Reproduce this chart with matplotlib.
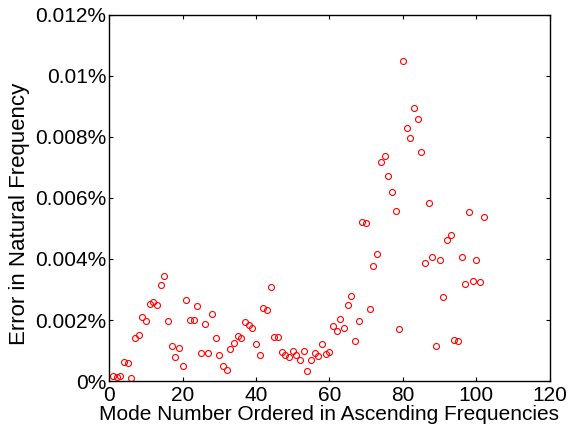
import matplotlib
matplotlib.use('Agg')
import matplotlib.pyplot as plt
from matplotlib.ticker import FuncFormatter

# relative error (in percent) for each mode number
modes = list(range(1, 103))
err = [0.00016, 0.00012, 0.00015, 0.00062, 0.00060, 0.00010, 0.00142, 0.00150, 0.00209, 0.00197,
       0.00251, 0.00259, 0.00248, 0.00314, 0.00344, 0.00197, 0.00114, 0.00080, 0.00108, 0.00048,
       0.00264, 0.00201, 0.00200, 0.00247, 0.00091, 0.00187, 0.00093, 0.00220, 0.00141, 0.00085,
       0.00048, 0.00037, 0.00106, 0.00125, 0.00146, 0.00142, 0.00192, 0.00184, 0.00173, 0.00120,
       0.00086, 0.00239, 0.00233, 0.00307, 0.00144, 0.00144, 0.00095, 0.00086, 0.00080, 0.00097,
       0.00084, 0.00068, 0.00098, 0.00033, 0.00068, 0.00093, 0.00083, 0.00120, 0.00089, 0.00096,
       0.00180, 0.00163, 0.00202, 0.00175, 0.00248, 0.00280, 0.00131, 0.00196, 0.00522, 0.00517,
       0.00236, 0.00376, 0.00416, 0.00716, 0.00738, 0.00672, 0.00620, 0.00558, 0.00169, 0.01049,
       0.00828, 0.00796, 0.00895, 0.00858, 0.00749, 0.00387, 0.00584, 0.00407, 0.00114, 0.00397,
       0.00275, 0.00462, 0.00480, 0.00136, 0.00131, 0.00407, 0.00318, 0.00553, 0.00328, 0.00398,
       0.00325, 0.00536]

plt.rcParams['font.family'] = ['Liberation Sans', 'DejaVu Sans']

fig = plt.figure(figsize=(5.69, 4.34), dpi=100)
ax = fig.add_axes([0.192, 0.122, 0.774, 0.844])

ax.plot(modes, err, 'o', mfc='none', mec='red', ms=4.3, mew=0.8)

ax.set_xlim(0, 120)
ax.set_ylim(0, 0.012)
ax.set_xticks(range(0, 121, 20))
ax.set_yticks([0, 0.002, 0.004, 0.006, 0.008, 0.01, 0.012])
ax.yaxis.set_major_formatter(FuncFormatter(lambda v, p: '%g%%' % round(v, 6)))
ax.tick_params(direction='in', top=True, right=True, length=3, width=0.8,
               labelsize=15)
ax.tick_params(axis='x', pad=3.5)
ax.tick_params(axis='y', pad=2)
for s in ax.spines.values():
    s.set_linewidth(1.0)

ax.set_xlabel('Mode Number Ordered in Ascending Frequencies', fontsize=15)
ax.xaxis.set_label_coords(0.5, -0.066)
ax.set_ylabel('Error in Natural Frequency', fontsize=16)
ax.yaxis.set_label_coords(-0.18, 0.456)

fig.savefig('out.png', dpi=100)
